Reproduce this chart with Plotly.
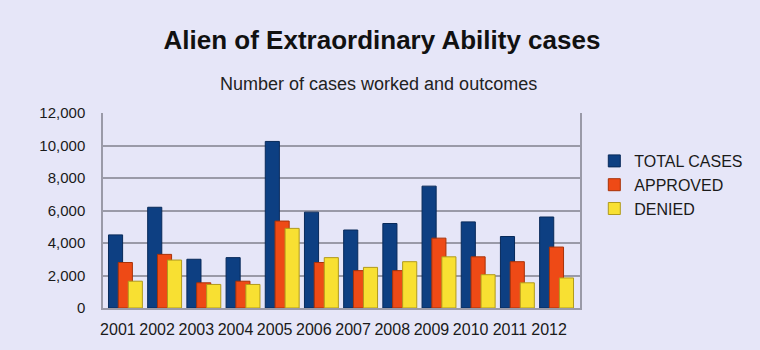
import plotly.graph_objects as go

years = ["2001", "2002", "2003", "2004", "2005", "2006",
         "2007", "2008", "2009", "2010", "2011", "2012"]
total_cases = [4500, 6200, 3000, 3100, 10250, 5900, 4800, 5200, 7500, 5300, 4400, 5600]
approved = [2800, 3300, 1550, 1650, 5350, 2800, 2300, 2300, 4300, 3150, 2850, 3750]
denied = [1650, 2950, 1450, 1450, 4900, 3100, 2500, 2850, 3150, 2050, 1550, 1850]

y_ticks = [0, 2000, 4000, 6000, 8000, 10000, 12000]

BG = "#e6e6f8"
FONT = "Liberation Sans, Arial, sans-serif"

series = [
    ("TOTAL CASES", total_cases, "#0d3f82", "#082a5a", -0.24),
    ("APPROVED", approved, "#ee4a16", "#a83208", 0.01),
    ("DENIED", denied, "#f8e032", "#b09a1c", 0.265),
]

fig = go.Figure()
for name, vals, color, edge, off in series:
    fig.add_trace(go.Bar(
        x=years, y=vals, name=name,
        width=0.36, offset=off,
        marker=dict(color=color, line=dict(color=edge, width=1)),
    ))

fig.update_layout(
    width=760, height=350,
    paper_bgcolor=BG, plot_bgcolor=BG,
    barmode="overlay",
    margin=dict(l=103, r=175, t=113, b=42),
    font=dict(family=FONT, size=15, color="#1a1a1a"),
    title=dict(
        text="<b>Alien of Extraordinary Ability cases</b>",
        x=382 / 760, xref="container", xanchor="center",
        y=1 - 40 / 350, yref="container", yanchor="middle",
        font=dict(size=26, color="#111111", family=FONT),
    ),
    annotations=[
        dict(
            text="Number of cases worked and outcomes",
            x=(381 - 103) / 482, y=(308 - 84) / 195, xref="paper", yref="paper",
            xanchor="center", yanchor="middle", showarrow=False,
            font=dict(size=18, color="#222222", family=FONT),
        ),
    ],
    legend=dict(
        x=1.03, y=1 - (144 - 113) / 195, xanchor="left", yanchor="top",
        bgcolor="rgba(0,0,0,0)", font=dict(size=16, color="#1a1a1a"),
        tracegroupgap=0, itemwidth=30,
    ),
    showlegend=True,
)

fig.update_xaxes(
    type="category", range=[-0.38, 11.79],
    showgrid=False, showline=True, linecolor="#9a9aa8", linewidth=1.5,
    ticks="", ticklabelstandoff=6, tickfont=dict(size=16),
)
fig.update_yaxes(
    range=[0, 12000], tickvals=y_ticks, tickformat=",",
    showgrid=True, gridcolor="#9a9aa8", gridwidth=1.5,
    showline=True, linecolor="#9a9aa8", linewidth=1.5, mirror=True,
    ticks="", ticklabelstandoff=13, tickfont=dict(size=15),
    zeroline=False,
)

fig.write_html("out.html")
